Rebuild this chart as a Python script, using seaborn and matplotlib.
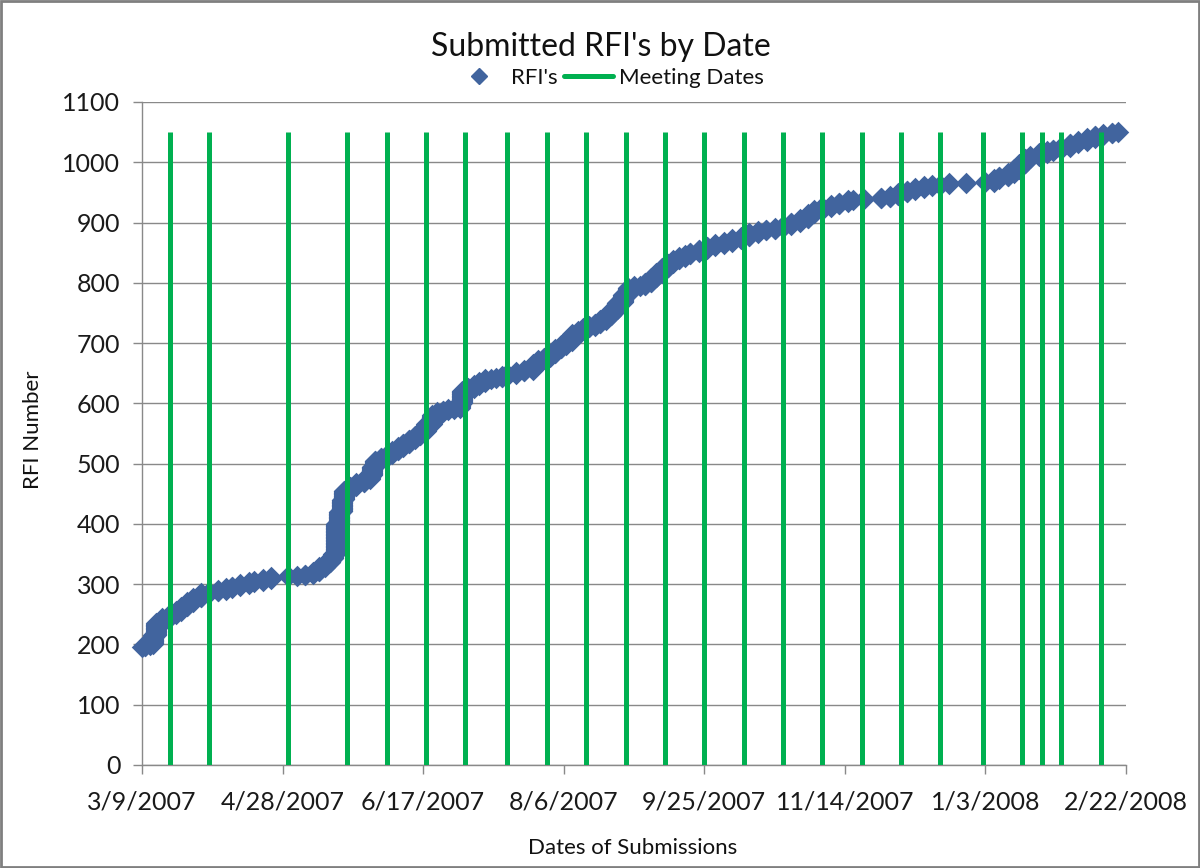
import pandas as pd
import matplotlib
matplotlib.use("Agg")
import matplotlib.pyplot as plt
from matplotlib.lines import Line2D
from matplotlib.patches import Rectangle
import seaborn as sns

# submissions: days after 3/9/2007 and the highest RFI number reached on that day
start_date = "2007-03-09"
first_rfi = 196
sub_day = [0, 1, 3, 4, 5, 7, 10, 12, 14, 16, 18, 21, 24, 27, 30, 32, 35, 38, 40, 43,
           46, 49, 52, 55, 58, 61, 63, 65, 67, 68, 69, 70, 71, 72, 74, 76, 79, 81, 82, 83,
           85, 87, 89, 91, 93, 95, 97, 99, 101, 103, 105, 107, 109, 111, 113, 114, 116, 118, 120, 122,
           124, 126, 128, 130, 133, 136, 139, 141, 143, 145, 147, 149, 151, 153, 155, 157, 159, 161, 163, 165,
           167, 169, 171, 173, 175, 177, 179, 181, 183, 185, 187, 189, 191, 193, 195, 198, 201, 204, 207, 210,
           213, 216, 219, 222, 225, 228, 231, 234, 237, 239, 242, 245, 248, 251, 253, 257, 263, 266, 269, 272,
           275, 278, 281, 284, 287, 293, 300, 303, 305, 308, 310, 312, 314, 316, 319, 322, 324, 327, 330, 333,
           336, 339, 342, 345, 347]
last_rfi = [196, 198, 200, 215, 235, 244, 250, 255, 262, 270, 277, 285, 287, 290, 293, 296, 300, 303, 305, 308,
            312, 312, 313, 314, 316, 320, 328, 335, 342, 350, 400, 420, 440, 455, 462, 468, 474, 480, 495, 505,
            510, 515, 521, 527, 533, 540, 546, 553, 565, 580, 585, 588, 590, 592, 600, 620, 625, 630, 635, 640,
            641, 642, 645, 648, 652, 655, 665, 672, 676, 682, 690, 696, 703, 715, 720, 725, 728, 732, 738, 745,
            755, 767, 780, 792, 794, 795, 800, 808, 816, 825, 832, 838, 842, 846, 850, 855, 860, 864, 867, 872,
            876, 882, 886, 888, 891, 895, 900, 906, 914, 920, 925, 929, 933, 937, 938, 939, 941, 944, 949, 953,
            957, 960, 962, 963, 965, 966, 967, 972, 976, 982, 988, 997, 1006, 1010, 1015, 1018, 1021, 1025, 1031, 1035,
            1040, 1044, 1047, 1049, 1050]

meeting_dates = ["2007-03-19", "2007-04-02", "2007-04-30", "2007-05-21", "2007-06-04", "2007-06-18",
                 "2007-07-02", "2007-07-17", "2007-07-31", "2007-08-14", "2007-08-28", "2007-09-11",
                 "2007-09-25", "2007-10-09", "2007-10-23", "2007-11-06", "2007-11-20", "2007-12-04",
                 "2007-12-18", "2008-01-02", "2008-01-16", "2008-01-23", "2008-01-30", "2008-02-13"]
meeting_top = 1050

x_tick_labels = ["3/9/2007", "4/28/2007", "6/17/2007", "8/6/2007", "9/25/2007",
                 "11/14/2007", "1/3/2008", "2/22/2008"]
y_tick_values = [0, 100, 200, 300, 400, 500, 600, 700, 800, 900, 1000, 1100]

blue = "#41649E"
green = "#00B050"
gray = "#898989"

# one row per RFI number (numbers are consecutive)
start = pd.Timestamp(start_date)
rows = []
prev = first_rfi - 1
for d, last in zip(sub_day, last_rfi):
    for n in range(prev + 1, last + 1):
        rows.append((start + pd.Timedelta(days=d), n))
    prev = max(prev, last)
rfi = pd.DataFrame(rows, columns=["date", "rfi"])

sns.set_theme(style="white")
plt.rcParams["font.family"] = ["Lato", "DejaVu Sans"]

fig = plt.figure(figsize=(12, 8.68), dpi=100)
ax = fig.add_axes([0.1183, 0.1187, 0.82, 0.7638])

sns.scatterplot(data=rfi, x="date", y="rfi", marker="D", s=120, color=blue,
                linewidth=0, ax=ax, zorder=3, clip_on=False, legend=False)
ax.vlines(pd.to_datetime(meeting_dates), 0, meeting_top, color=green, lw=3.6, zorder=4)

xticks = pd.to_datetime(x_tick_labels, format="%m/%d/%Y")
ax.set_xlim(xticks[0], xticks[-1])
ax.set_xticks(xticks)
ax.set_xticklabels(x_tick_labels)
ax.set_ylim(0, 1100)
ax.set_yticks(y_tick_values)
ax.set_xlabel("")
ax.set_ylabel("")

ax.yaxis.grid(True, color=gray, lw=1)
ax.xaxis.grid(False)
ax.set_axisbelow(True)
for s in ["top", "right"]:
    ax.spines[s].set_visible(False)
for s in ["left", "bottom"]:
    ax.spines[s].set_color(gray)
    ax.spines[s].set_linewidth(1)
ax.tick_params(axis="x", direction="out", length=6.5, width=1, color=gray,
               labelsize=18, labelcolor="#1a1a1a", pad=12, bottom=True)
ax.tick_params(axis="y", direction="out", length=6.5, width=1, color=gray,
               labelsize=18, labelcolor="#1a1a1a", pad=9, left=True)

fig.text(0.501, 0.946, "Submitted RFI's by Date", ha="center", va="center", fontsize=23, color="#111111")
fig.text(0.5275, 0.023, "Dates of Submissions", ha="center", va="center", fontsize=16, color="#111111")
fig.text(0.0275, 0.505, "RFI Number", ha="center", va="center", rotation=90, fontsize=16, color="#111111")

handles = [Line2D([], [], marker="D", color=blue, ls="none", markersize=8),
           Line2D([], [], color=green, lw=3.6)]
fig.legend(handles, ["RFI's", "Meeting Dates"], loc="center", bbox_to_anchor=(0.508, 0.91),
           ncol=2, frameon=False, fontsize=16, handlelength=2.2, columnspacing=0.3,
           handletextpad=0.3, labelcolor="#111111")

fig.patches.append(Rectangle((0.001, 0.001), 0.998, 0.998, transform=fig.transFigure,
                             fill=False, edgecolor="#7f7f7f", lw=2))

fig.savefig("out.png", dpi=100)
